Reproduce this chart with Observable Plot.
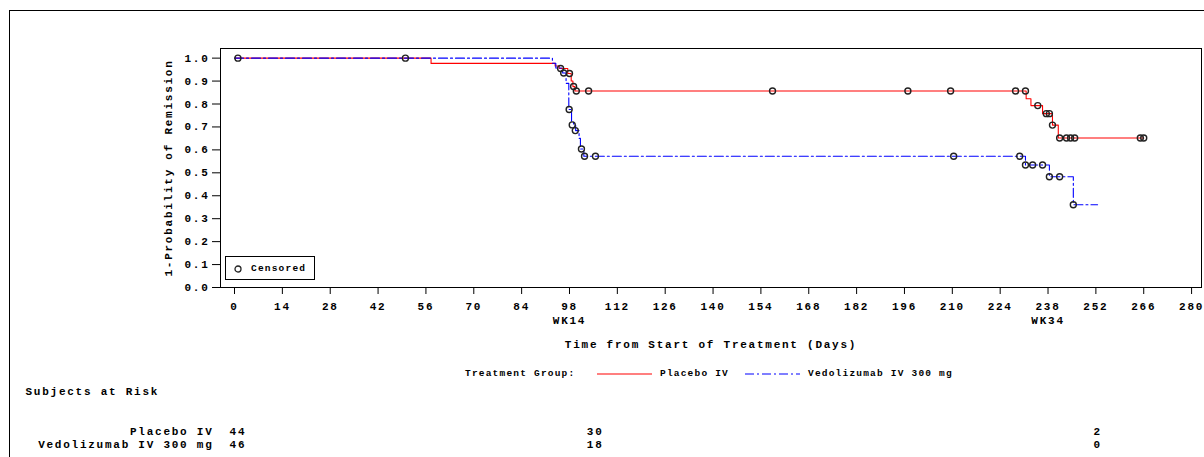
<!DOCTYPE html>
<html>
<head>
<meta charset="utf-8">
<script src="https://cdn.jsdelivr.net/npm/d3@7"></script>
<script src="https://cdn.jsdelivr.net/npm/@observablehq/plot@0.6"></script>
<style>
  body { margin: 0; background: #fff; }
  #wrap { position: relative; width: 1204px; height: 457px; overflow: hidden; font-family: "Liberation Mono", "Courier New", monospace; font-weight: bold; color: #000; }
  #border { position: absolute; left: 9px; top: 10px; width: 1300px; height: 600px; border-left: 1px solid #000; border-top: 1px solid #000; }
  .abs { position: absolute; white-space: pre; line-height: 1; }
  .leg { font-size: 9.5px; letter-spacing: 1.2px; }
</style>
</head>
<body>
<div id="wrap">
  <div id="border"></div>
</div>
<script>
// ---------- data ----------
const groups = ["Placebo IV", "Vedolizumab IV 300 mg"];
const colors = ["#ff0000", "#0000ff"];

// Kaplan-Meier step points (day, 1-probability of remission)
const placeboDays = [0, 57.5, 93.8, 95, 97.5, 98.5, 99, 99.6, 231.6, 233, 236.4, 239.3, 241, 266];
const placeboSurv = [1.0, 0.977, 0.966, 0.955, 0.933, 0.90, 0.876, 0.857, 0.823, 0.793, 0.758, 0.708, 0.652, 0.652];

const vedoDays = [0, 93, 94, 96, 97, 97.8, 98.6, 99.2, 99.8, 100.8, 101.2, 102.2, 231.4, 238.4, 245.4, 252.5];
const vedoSurv = [1.0, 0.978, 0.957, 0.935, 0.89, 0.776, 0.72, 0.709, 0.684, 0.65, 0.604, 0.572, 0.534, 0.483, 0.361, 0.361];

// censored observations
const placeboCensDays = [1, 50, 95.4, 98, 99.2, 100, 103.6, 157.4, 197, 209.5, 228.5, 231.4, 235, 237.5, 238.4, 239.3, 241.4, 243.4, 244.6, 245.8, 265, 266];
const placeboCensSurv = [1, 1, 0.955, 0.933, 0.876, 0.857, 0.857, 0.857, 0.857, 0.857, 0.857, 0.857, 0.793, 0.758, 0.758, 0.708, 0.652, 0.652, 0.652, 0.652, 0.652, 0.652];

const vedoCensDays = [96.3, 97.9, 98.8, 99.7, 101.5, 102.4, 105.6, 210.4, 229.7, 231.4, 233.5, 236.4, 238.4, 241.4, 245.4];
const vedoCensSurv = [0.935, 0.776, 0.709, 0.684, 0.604, 0.572, 0.572, 0.572, 0.572, 0.534, 0.534, 0.534, 0.483, 0.483, 0.361];

// axis ticks
const xTicks = d3.range(0, 281, 14);
const yTicks = [0, 0.1, 0.2, 0.3, 0.4, 0.5, 0.6, 0.7, 0.8, 0.9, 1.0];
const weekDays = [98, 238];
const weekLabels = ["WK14", "WK34"];

// subjects at risk
const riskDays = [1, 105.5, 252.5];
const placeboRisk = [44, 30, 2];
const vedoRisk = [46, 18, 0];

// ---------- build tables ----------
const placeboLine = placeboDays.map((d, i) => ({day: d, s: placeboSurv[i]}));
const vedoLine = vedoDays.map((d, i) => ({day: d, s: vedoSurv[i]}));
const cens = [
  ...placeboCensDays.map((d, i) => ({day: d, s: placeboCensSurv[i]})),
  ...vedoCensDays.map((d, i) => ({day: d, s: vedoCensSurv[i]}))
];
const riskP = riskDays.map((d, i) => ({day: d, n: placeboRisk[i]}));
const riskV = riskDays.map((d, i) => ({day: d, n: vedoRisk[i]}));

const font = "Liberation Mono, Courier New, monospace";

const chart = Plot.plot({
  width: 1204,
  height: 457,
  marginLeft: 220,
  marginRight: 3,
  marginTop: 48,
  marginBottom: 170,
  style: {fontFamily: font, fontWeight: "bold", fontSize: "11px", letterSpacing: "1.75px", color: "#000", background: "transparent"},
  x: {domain: [-4.1, 282.9]},
  y: {domain: [0, 1.042]},
  marks: [
    Plot.frame({stroke: "#000", strokeWidth: 1}),
    Plot.axisX({ticks: xTicks, tickSize: 7, tickPadding: 8, label: null, tickFormat: d => String(d)}),
    Plot.axisY({ticks: yTicks, tickSize: 8, tickPadding: 3, label: null, tickFormat: d3.format(".1f"), letterSpacing: "2.5px"}),
    Plot.text(weekLabels, {x: weekDays, text: d => d, frameAnchor: "bottom", dy: 36}),
    Plot.text(["Time from Start of Treatment (Days)"], {frameAnchor: "bottom", dy: 60}),
    Plot.text(["1-Probability of Remission"], {frameAnchor: "left", textAnchor: "middle", rotate: -90, dx: -52, letterSpacing: "2px"}),
    Plot.line(placeboLine, {x: "day", y: "s", curve: "step-after", stroke: colors[0], strokeWidth: 1.1}),
    Plot.line(vedoLine, {x: "day", y: "s", curve: "step-after", stroke: colors[1], strokeWidth: 1.1, strokeDasharray: "9,3,2,3"}),
    Plot.dot(cens, {x: "day", y: "s", r: 3, stroke: "#222", strokeWidth: 1.4, fill: "none"}),
    Plot.text(["Subjects at Risk"], {frameAnchor: "bottom-left", textAnchor: "start", dx: -195, dy: 107}),
    Plot.text([groups[0]], {frameAnchor: "bottom-left", textAnchor: "end", dx: -7, dy: 147}),
    Plot.text([groups[1]], {frameAnchor: "bottom-left", textAnchor: "end", dx: -7, dy: 160}),
    Plot.text(riskP, {x: "day", text: d => String(d.n), frameAnchor: "bottom", dy: 147}),
    Plot.text(riskV, {x: "day", text: d => String(d.n), frameAnchor: "bottom", dy: 160})
  ]
});

const wrap = document.getElementById("wrap");
chart.style.position = "absolute";
chart.style.left = "0px";
chart.style.top = "0px";
wrap.appendChild(chart);

// ---------- legends (HTML overlays) ----------
function addDiv(html, css) {
  const d = document.createElement("div");
  d.className = "abs";
  d.style.cssText = css;
  d.innerHTML = html;
  wrap.appendChild(d);
  return d;
}
// treatment group legend
const legY = 374;
addDiv("Treatment Group:", `left:465px; top:${legY - 5}px;`).classList.add("leg");
const legSvg = `<svg width="60" height="6" style="position:absolute;left:0;top:0">
  <line x1="0" y1="3" x2="55" y2="3" stroke="${colors[0]}" stroke-width="1.2"/></svg>`;
addDiv(legSvg, `left:597px; top:${legY - 3}px; width:60px; height:6px;`);
addDiv(groups[0], `left:660px; top:${legY - 5}px;`).classList.add("leg");
const legSvg2 = `<svg width="60" height="6" style="position:absolute;left:0;top:0">
  <line x1="0" y1="3" x2="55" y2="3" stroke="${colors[1]}" stroke-width="1.2" stroke-dasharray="9,3,2,3"/></svg>`;
addDiv(legSvg2, `left:745px; top:${legY - 3}px; width:60px; height:6px;`);
addDiv(groups[1], `left:808px; top:${legY - 5}px;`).classList.add("leg");

// censored legend box
addDiv(`<svg width="10" height="10" style="position:absolute;left:7px;top:7px"><circle cx="5" cy="5" r="3" fill="none" stroke="#222" stroke-width="1.3"/></svg><span class="leg" style="position:absolute;left:25px;top:7px">Censored</span>`,
  `left:225px; top:256px; width:88px; height:22px; border:1px solid #000; background:#fff;`);
</script>
</body>
</html>
